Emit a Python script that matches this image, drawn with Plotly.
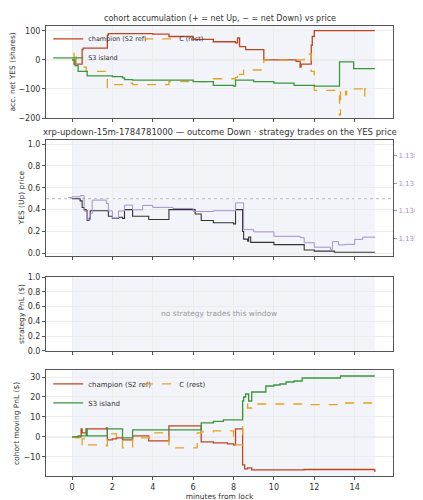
import plotly.graph_objects as go
from plotly.subplots import make_subplots

# panel 1: accumulation
acc_champ_t = [0,0.1,0.45,0.5,0.55,1.7,1.75,1.8,4,4.8,6,7,8.1,8.2,8.3,8.6,9.4,9.5,11.1,11.3,11.35,11.8,11.85,11.9,12,15]
acc_champ_v = [0,-15,-15,35,40,40,85,90,88,80,70,62,58,75,45,35,35,0,-5,-25,-15,-15,50,80,100,100]
acc_c_t = [0,0.1,0.15,0.2,0.7,1.7,1.75,2.0,2.5,3.0,4.8,6,7,8.1,8.2,8.3,8.5,9.4,9.5,11.1,11.5,11.7,11.85,12,13.2,13.25,13.3,13.5,13.55,13.6,14.4,14.45,14.5,15]
acc_c_v = [0,30,10,-25,-40,-40,-95,-85,-80,-85,-75,-75,-65,-60,-40,-50,-35,-30,0,0,10,20,-40,-105,-105,-190,-105,-100,-120,-100,-100,-125,-100,-100]
acc_s3_t = [0,0.15,0.3,0.7,0.75,2,2.5,2.6,3,5,6,7,8.0,8.1,9,10,11,12,13.2,13.25,13.9,13.95,15]
acc_s3_v = [0,-20,-40,-40,-55,-58,-62,-68,-70,-70,-75,-88,-90,-70,-75,-80,-88,-90,-90,-7,-7,-30,-30]

# panel 2: YES price and XRP/USD
yes_t = [0,0.4,0.5,0.6,0.7,0.75,0.85,0.9,1.7,1.8,2.0,2.3,2.5,2.6,3.0,3.8,4.8,6.0,6.1,6.4,7.0,8.0,8.1,8.4,8.45,8.5,8.7,8.75,8.85,10,11.5,12,13,15]
yes_v = [0.5,0.48,0.42,0.4,0.39,0.3,0.32,0.39,0.39,0.34,0.32,0.33,0.32,0.4,0.34,0.31,0.4,0.4,0.36,0.30,0.28,0.27,0.4,0.4,0.2,0.13,0.11,0.15,0.1,0.08,0.03,0.02,0.01,0.01]
xrp_t = [-0.2,0,0.4,0.6,0.75,0.9,1.0,1.7,1.8,2.0,2.3,2.6,3.0,3.5,4.0,5.0,6.0,7.0,8.0,8.1,8.4,8.5,9.0,10.0,11.3,11.5,12.0,12.8,12.9,13.2,13.5,14.0,14.4,15.0]
xrp_v = [1.13648,1.13651,1.13655,1.13600,1.13568,1.13590,1.13639,1.13627,1.13600,1.13574,1.13600,1.13621,1.13604,1.13620,1.13613,1.13609,1.13598,1.13601,1.13600,1.13629,1.13629,1.13533,1.13525,1.13509,1.13504,1.13486,1.13470,1.13462,1.13490,1.13478,1.13480,1.13498,1.13506,1.13504]

# panel 4: moving PnL
pnl_champ_t = [0,0.45,0.5,0.7,1.7,1.75,2.0,2.2,2.5,3.0,3.8,4.8,6.4,7,7.7,8.0,8.1,8.4,8.45,8.55,8.7,8.9,10,11.5,14.98,15]
pnl_champ_v = [0,4,2,4,4.5,-1.5,-1,-0.5,-1.5,0.5,-2,5.5,-2.5,-3,-3.5,-4,4,4,-14,-16,-15.5,-16.5,-16.5,-16.3,-16.5,-17.5]
pnl_s3_t = [0,0.3,0.7,0.75,1.75,2.2,2.5,3,4.8,6.4,7,7.5,8.4,8.45,8.5,8.6,8.75,8.9,9.6,10,10.3,10.6,11,11.4,13.3,15]
pnl_s3_v = [0,0.5,4,0.5,4,4,-0.5,3.5,3.5,7,7.8,8.5,8.5,18,20,21.5,18,22.5,25.5,26,26.5,27.5,28,29.5,30.5,30.5]
pnl_c_t = [0,0.2,0.45,0.5,0.7,1.7,1.75,2.2,2.5,3,3.8,4.8,6.2,6.4,7,8,8.4,8.45,8.55,8.7,8.9,11.5,13.3,15]
pnl_c_v = [0,-0.5,-4,-1,-4,-4.5,1.5,0,-5.5,-0.5,2,-5.5,2,2.5,3,-4,-4,15,16.5,14.5,16.5,16.2,17,17]

RED = "#c0451f"; GREEN = "#3a963c"; GOLD = "#e3a31c"; PURPLE = "#a58fd0"

fig = make_subplots(rows=4, cols=1, shared_xaxes=True,
                    specs=[[{}], [{"secondary_y": True}], [{}], [{}]])

def add(t, v, name, color, row, dash="solid", legend="legend", show=True, width=1.3, sec=False):
    kw = dict(secondary_y=sec) if row == 2 else {}
    fig.add_trace(go.Scatter(x=t, y=v, name=name, mode="lines", line=dict(color=color, width=width, dash=dash, shape="hv"),
                             legend=legend, showlegend=show), row=row, col=1, **kw)

add(acc_champ_t, acc_champ_v, "champion (S2 ref)", RED, 1)
add(acc_c_t, acc_c_v, "C (rest)", GOLD, 1, dash="dash", legend="legend3")
add(acc_s3_t, acc_s3_v, "S3 island", GREEN, 1)
add(xrp_t, xrp_v, "xrp", PURPLE, 2, show=False, width=1, sec=True)
add(yes_t, yes_v, "yes", "#333333", 2, show=False, width=1.1)
fig.add_trace(go.Scatter(x=[0, 15], y=[0, 0], mode="lines", line=dict(width=0), showlegend=False, hoverinfo="skip"), row=3, col=1)
add(pnl_champ_t, pnl_champ_v, "champion (S2 ref)", RED, 4, legend="legend2")
add(pnl_c_t, pnl_c_v, "C (rest)", GOLD, 4, dash="dash", legend="legend4")
add(pnl_s3_t, pnl_s3_v, "S3 island", GREEN, 4, legend="legend2")

font = dict(family="DejaVu Sans", size=8, color="#333")
def leg(x, y, size):
    return dict(orientation="v", x=x, y=y, xanchor="left", yanchor="top", bgcolor="rgba(255,255,255,0)",
                font=dict(size=size), tracegroupgap=0, itemwidth=30)
fig.update_layout(width=423, height=500, margin=dict(l=0, r=0, t=0, b=0), paper_bgcolor="white", plot_bgcolor="white",
                  font=font,
                  legend=leg(0.095, 0.975, 6.5), legend3=leg(0.31, 0.975, 6.5),
                  legend2=leg(0.095, 0.272, 7), legend4=leg(0.31, 0.272, 7))

xd = [38/423, 385/423]
doms = [[0.784, 0.972], [0.504, 0.74], [0.31, 0.46], [0.054, 0.27]]
axcommon = dict(showline=True, linecolor="#555", linewidth=1, mirror=True, gridcolor="#ececec", zeroline=False,
                ticks="outside", ticklen=3, tickcolor="#555", tickfont=dict(size=8))
tf = dict(size=7.5)
for i in range(4):
    fig.update_xaxes(domain=xd, range=[-1.29, 15.9], tickvals=[0,2,4,6,8,10,12,14], row=i+1, col=1, **axcommon)
    fig.update_yaxes(domain=doms[i], row=i+1, col=1, **axcommon)
fig.update_xaxes(showticklabels=True, row=4, col=1, title=dict(text="minutes from lock", font=tf, standoff=2))
fig.update_yaxes(row=1, col=1, range=[-200, 117], tickvals=[-200,-100,0,100], title=dict(text="acc. net YES (shares)", font=tf, standoff=2))
fig.update_yaxes(row=2, col=1, range=[-0.02, 1.04], tickvals=[0,0.2,0.4,0.6,0.8,1.0], tickformat=".1f", title=dict(text="YES (Up) price", font=tf, standoff=2), secondary_y=False)
fig.update_yaxes(row=2, col=1, range=[1.13440, 1.13856], tickvals=[1.135,1.136,1.137,1.138], ticktext=["1.135","1.136","1.137","1.138"],
                 secondary_y=True, showgrid=False, showline=False, ticks="outside", ticklen=3, tickcolor=PURPLE,
                 tickfont=dict(color=PURPLE, size=7), automargin=False,
                 title=dict(text="XRP/USD (strike dotted = YES 0.5)", font=dict(color=PURPLE, size=6.5), standoff=0))
fig.update_yaxes(row=3, col=1, range=[0, 1], tickvals=[0,0.2,0.4,0.6,0.8,1.0], tickformat=".1f", title=dict(text="strategy PnL ($)", font=tf, standoff=2))
fig.update_yaxes(row=4, col=1, range=[-19.8, 33.3], tickvals=[-10,0,10,20,30], title=dict(text="cohort moving PnL ($)", font=tf, standoff=2))

# shaded window and reference lines
for i in range(4):
    fig.add_vrect(x0=0, x1=15, fillcolor="#eef0f8", opacity=0.7, line_width=0, layer="below", row=i+1, col=1)
fig.add_hline(y=0, line=dict(color="#ddd", width=1), layer="below", row=1, col=1)
fig.add_hline(y=0, line=dict(color="#ddd", width=1), layer="below", row=4, col=1)
fig.add_hline(y=0.5, line=dict(color="#bbb", width=1, dash="dot"), layer="below", row=2, col=1)

fig.add_annotation(text="cohort accumulation (+ = net Up, − = net Down) vs price", xref="paper", yref="paper",
                   x=(xd[0]+xd[1])/2, y=0.974, yanchor="bottom", showarrow=False, font=dict(size=8))
fig.add_annotation(text="xrp-updown-15m-1784781000 — outcome Down · strategy trades on the YES price", xref="paper", yref="paper",
                   x=(xd[0]+xd[1])/2, y=0.742, yanchor="bottom", showarrow=False, font=dict(size=8.5))
fig.add_annotation(text="no strategy trades this window", xref="x3", yref="y4", x=7.3, y=0.5, showarrow=False,
                   font=dict(size=7.5, color="#999"))

fig.write_html("out.html")
